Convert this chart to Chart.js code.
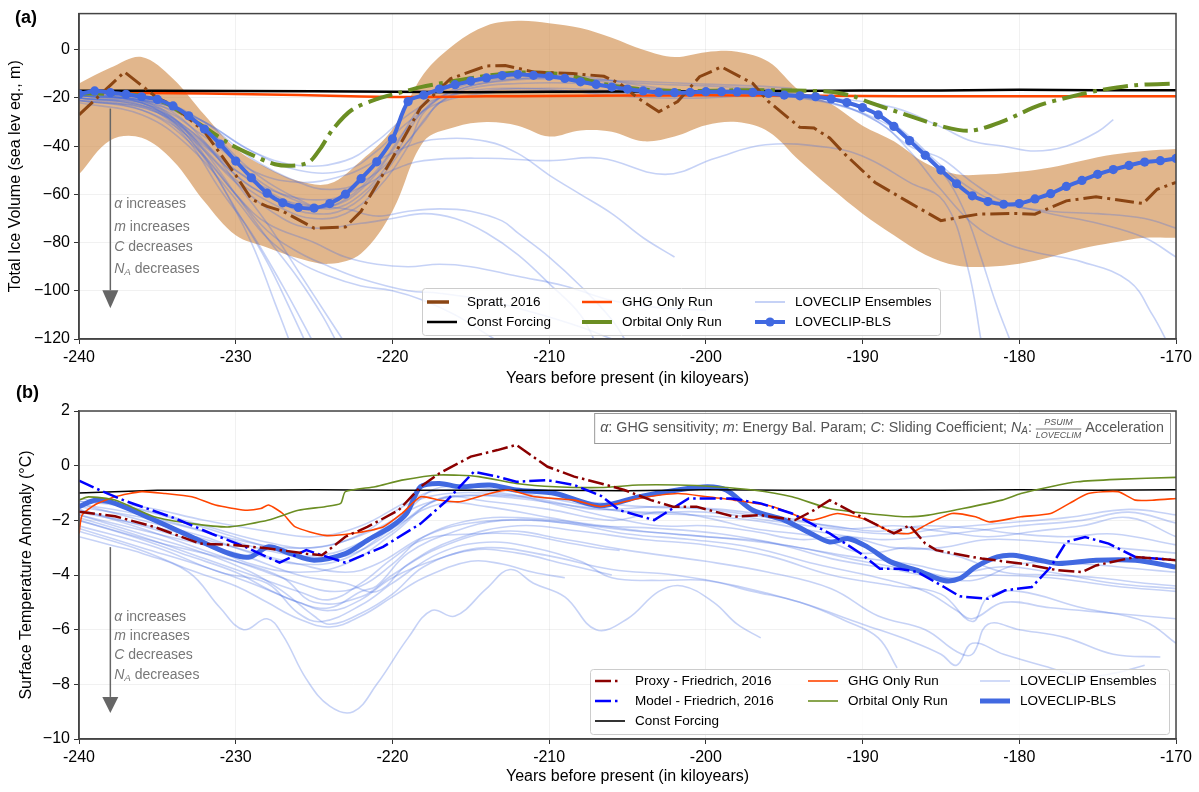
<!DOCTYPE html>
<html><head><meta charset="utf-8">
<script src="https://cdn.jsdelivr.net/npm/chart.js@4.4.1/dist/chart.umd.min.js"></script>
<style>
html,body{margin:0;padding:0;background:#fff;}
body{width:1199px;height:792px;overflow:hidden;position:relative;}
canvas{position:absolute;left:0;display:block;}
#ca{top:0;}
#cb{top:375px;}
</style></head><body>
<canvas id="ca" width="1199" height="390"></canvas>
<canvas id="cb" width="1199" height="417"></canvas>
<script>
// ---------------- DATA : panel (a) total ice volume ----------------
const X_TICKS = [-240,-230,-220,-210,-200,-190,-180,-170];
const BLS_A = [[-240,-18.4],[-239,-17.1],[-238,-17.8],[-237,-18.5],[-236,-19.5],[-235,-20.6],[-234,-23.3],[-233,-27.4],[-232,-32.9],[-231,-39.1],[-230,-46.2],[-229,-53.1],[-228,-59.5],[-227,-63.5],[-226,-65.4],[-225,-65.7],[-224,-63.8],[-223,-59.9],[-222,-53.5],[-221,-46.5],[-220,-37.0],[-219,-21.5],[-218,-18.8],[-217,-16.3],[-216,-14.5],[-215,-13.0],[-214,-11.7],[-213,-10.7],[-212,-10.2],[-211,-10.6],[-210,-11.0],[-209,-11.9],[-208,-13.3],[-207,-14.4],[-206,-15.5],[-205,-16.3],[-204,-17.1],[-203,-17.7],[-202,-17.8],[-201,-17.7],[-200,-17.4],[-199,-17.4],[-198,-17.5],[-197,-17.7],[-196,-18.1],[-195,-18.8],[-194,-19.1],[-193,-19.5],[-192,-20.4],[-191,-21.9],[-190,-24.0],[-189,-27.0],[-188,-31.8],[-187,-37.7],[-186,-43.8],[-185,-49.9],[-184,-55.6],[-183,-60.6],[-182,-63.0],[-181,-64.1],[-180,-63.8],[-179,-61.9],[-178,-59.7],[-177,-56.7],[-176,-54.2],[-175,-51.7],[-174,-49.7],[-173,-48.0],[-172,-46.6],[-171,-46.0],[-170,-45.1]];
const SPRATT_A = [[-240,-27],[-237.1,-9.2],[-235,-20],[-234,-23],[-232,-34],[-230,-52],[-229,-62],[-228,-65],[-227,-67],[-225,-74],[-223,-73.5],[-222,-67],[-220,-45],[-218.2,-24],[-216.3,-12],[-214,-6.7],[-212.8,-6.5],[-211,-9.2],[-208.5,-9.9],[-206.5,-11],[-205.5,-14],[-204.3,-20.2],[-203,-25.7],[-201.8,-21.5],[-200.4,-11.2],[-199,-7.1],[-197,-14],[-196,-21.5],[-194,-32.2],[-193.1,-32.5],[-192.1,-36.6],[-191.1,-43.5],[-189.2,-55.1],[-187.2,-62.7],[-185,-70.9],[-182.6,-68.2],[-180.2,-67.9],[-179,-68.2],[-177,-62.7],[-175.1,-61],[-172.1,-63.8],[-171.2,-57.9],[-170,-55]];
const BAND_X  = [-240,-238,-236,-234,-232,-230,-228,-226,-224,-222,-220,-218,-216,-214,-212,-210,-208,-206,-204,-202,-200,-198,-196,-194,-192,-190,-188,-186,-184,-182,-180,-178,-176,-174,-172,-170];
const BAND_UP = [-14,-7.5,-3,-12,-27,-41,-49,-54.5,-55.5,-46,-33,-10,2.5,10,12,11,9,5,0,-3,-1,-0.8,-5,-17,-22.5,-31.5,-38,-47,-51.7,-51.7,-50.6,-48.8,-46,-43.5,-42,-41.2];
const BAND_LO = [-51.7,-37.5,-36.5,-46,-63,-77,-82,-86.5,-88.8,-84.5,-67,-38,-32,-30,-31.5,-36,-33.5,-34,-38,-36,-31.3,-30,-34,-46.2,-57.5,-68,-77,-85,-89.5,-90,-88.8,-86,-82.5,-80,-78,-78];
const GHG_A = [[-240,-17.8],[-232,-18.2],[-226,-18.8],[-222,-19.4],[-218,-19.6],[-214,-19.3],[-210,-19.2],[-205,-19],[-200,-18.9],[-195,-19],[-190,-19.2],[-185,-19.3],[-180,-19.3],[-175,-19.3],[-170,-19.3]];
const CONST_A = [[-240,-17],[-235,-17],[-225,-17.2],[-220,-17.4],[-215,-17.6],[-210,-17.4],[-205,-17.3],[-200,-17.2],[-195,-17.1],[-190,-16.9],[-185,-16.9],[-180,-16.6],[-175,-16.8],[-170,-16.8]];
const ORBITAL_A = [[-240,-18],[-236,-19],[-234.5,-22],[-233.5,-26],[-231.8,-33],[-230.4,-39],[-229,-43.5],[-227.5,-47.5],[-226.2,-48],[-225.3,-46.5],[-224.6,-41],[-223.8,-33],[-222.6,-25],[-221,-20.5],[-219.4,-17.6],[-218.2,-15.5],[-217,-14],[-214.5,-11.3],[-212,-9.5],[-209,-10.3],[-206.7,-14],[-204.3,-16.3],[-201.8,-17.1],[-197,-16.8],[-192.1,-17.4],[-190.5,-19.5],[-189.7,-21.5],[-187.2,-27],[-184.8,-32],[-183.1,-33.6],[-181.1,-29.8],[-178.7,-23],[-176.3,-18.8],[-175.1,-17.1],[-172.6,-14.7],[-170,-14]];
const ENS_A = [
 [[-240,-19],[-237,-20],[-235,-24],[-233,-35],[-231,-55],[-229,-80],[-227.5,-105],[-226.5,-122]],
 [[-240,-20],[-237,-22],[-235,-26],[-233,-38],[-231,-58],[-229,-76],[-227,-98],[-225,-122]],
 [[-240,-18],[-236,-21],[-234,-28],[-232,-42],[-230,-60],[-228,-78],[-226,-95],[-224.5,-110],[-223.5,-122]],
 [[-240,-19],[-236,-21],[-234,-26],[-232,-38],[-230,-55],[-228,-72],[-226,-92],[-224,-112],[-223,-122]],
 [[-240,-20],[-236,-23],[-234,-30],[-232,-45],[-230,-66],[-228,-88],[-226.5,-108],[-225.5,-122]],
 [[-240,-21],[-236,-25],[-233,-38],[-230,-60],[-228,-75],[-226,-84],[-224,-90],[-222,-95],[-219,-100],[-217,-101],[-214,-104],[-211,-109],[-208,-115],[-206,-120]],
 [[-240,-21],[-235,-26],[-232,-44],[-230,-60],[-228,-72],[-225,-80],[-223,-86],[-221,-89],[-219,-90],[-217,-89],[-215,-90],[-212,-94],[-209,-98],[-206,-104],[-203,-107],[-200,-108]],
 [[-240,-20],[-235,-26],[-232,-40],[-229,-57],[-226,-64],[-223,-66],[-221,-69],[-219,-67],[-217,-66],[-215,-67],[-213,-71],[-212,-76],[-210,-86],[-208,-98],[-206,-112],[-205,-122]],
 [[-240,-19],[-235,-24],[-232,-36],[-229,-50],[-226,-55],[-223,-52],[-221,-46],[-219,-40],[-217,-37],[-214,-38],[-212,-43],[-210,-52],[-208,-60],[-206,-68],[-204,-78],[-202,-86]],
 [[-240,-18],[-236,-22],[-233,-33],[-230,-50],[-227,-62],[-225,-66],[-223,-62],[-221,-50],[-219,-32],[-217,-20],[-215,-14],[-212,-12],[-208,-12],[-204,-14],[-200,-15],[-197,-16],[-194.5,-17]],
 [[-240,-19],[-236,-22],[-233,-35],[-230,-54],[-227,-66],[-225,-70],[-223,-68],[-221,-58],[-219,-40],[-218,-26],[-216,-17],[-213,-13],[-209,-12],[-205,-13],[-201,-14],[-197,-15],[-194.5,-16]],
 [[-240,-18],[-235,-21],[-232,-30],[-229,-45],[-226,-55],[-224,-58],[-222,-55],[-220,-45],[-218,-30],[-217,-22],[-215,-17],[-212,-16],[-209,-17],[-206,-19],[-203,-20],[-200,-20],[-197,-19],[-194,-20],[-191,-24],[-189,-29],[-187,-37],[-185,-50],[-183.5,-67],[-182.5,-85],[-181.5,-105],[-180.5,-122]],
 [[-240,-18],[-235,-22],[-232,-32],[-229,-50],[-226,-62],[-224,-66],[-222,-60],[-220,-45],[-218,-25],[-216,-17],[-212,-12],[-208,-12],[-204,-16],[-200,-18],[-196,-18],[-192,-21],[-189,-27],[-187,-36],[-185,-48],[-183,-58],[-181,-64],[-178,-67],[-175,-68],[-172,-70],[-170,-74]],
 [[-240,-20],[-236,-23],[-233,-33],[-230,-52],[-227,-64],[-225,-68],[-223,-66],[-221,-55],[-219,-38],[-217,-22],[-215,-16],[-212,-14],[-208,-14],[-204,-17],[-200,-19],[-196,-19],[-192,-22],[-189,-30],[-187,-42],[-185,-58],[-183,-72],[-181,-80],[-179,-84],[-176,-88],[-173,-96],[-171.5,-110],[-170.5,-122]],
 [[-240,-19],[-236,-22],[-233,-34],[-230,-50],[-227,-60],[-224,-62],[-222,-57],[-220,-50],[-218,-46],[-214,-45],[-210,-46],[-206.7,-45],[-202.6,-51.7],[-199.4,-45],[-196.2,-39.4],[-192,-40.7],[-189.7,-45],[-187,-55],[-184.8,-63],[-183.3,-90],[-182.4,-122]],
 [[-240,-19],[-235,-22],[-232,-30],[-229,-42],[-226,-48],[-223,-46],[-221,-38],[-219,-27],[-217,-20],[-214,-17],[-210,-16],[-206,-17],[-202,-18],[-198,-18],[-195,-19],[-192,-20],[-188,-24],[-185,-32],[-183,-38],[-181,-40],[-179,-42],[-177,-40],[-175,-34],[-174,-29]],
 [[-240,-19],[-235,-22],[-232,-30],[-229,-42],[-226,-50],[-223,-50],[-221,-42],[-219,-30],[-217,-22],[-214,-18],[-210,-17],[-206,-18],[-202,-18],[-198,-17],[-195,-18]],
 [[-240,-22],[-236,-27],[-233,-40],[-230,-62],[-228,-78],[-226,-88],[-224,-94],[-222,-98],[-220,-100],[-218,-104],[-216,-110],[-214,-118],[-213,-122]],
 [[-240,-21],[-236,-25],[-233,-36],[-230,-55],[-227,-70],[-225,-74],[-222,-72],[-220,-70],[-218,-68],[-216,-70],[-214,-76],[-212,-85],[-210,-97],[-208,-110],[-207,-122]],
 [[-240,-20],[-235,-23],[-232,-33],[-229,-52],[-226,-63],[-224,-65],[-222,-58],[-220,-42],[-218,-22],[-216,-15],[-212,-11],[-208,-11],[-204,-15],[-200,-18],[-196,-18],[-192,-22],[-189,-30],[-187,-40],[-185,-45],[-183,-55],[-181,-63],[-178,-68],[-175,-72],[-172,-78],[-170,-86]]
];

// ---------------- DATA : panel (b) surface temperature ----------------
const PROXY_B = [[-240,-1.69],[-237.7,-1.85],[-235.2,-2.24],[-232.3,-2.85],[-230,-2.91],[-227.9,-3.03],[-225.5,-3.22],[-224.5,-3.28],[-223,-2.6],[-221.6,-2.24],[-219.6,-1.63],[-218.2,-0.77],[-217,-0.28],[-215,0.33],[-213.3,0.57],[-212.1,0.76],[-210.1,-0.04],[-208.4,-0.4],[-206.7,-0.65],[-205.2,-0.89],[-203.5,-1.26],[-202.1,-1.5],[-200.6,-1.5],[-198.2,-1.87],[-196.5,-1.81],[-194.3,-1.99],[-193.1,-1.63],[-192.1,-1.26],[-190.9,-1.63],[-189.7,-1.99],[-188,-2.48],[-187,-2.18],[-186,-2.85],[-185.3,-3.09],[-183.6,-3.28],[-182.4,-3.4],[-179.9,-3.58],[-177.5,-3.83],[-176,-3.89],[-175.1,-3.65],[-172.6,-3.34],[-170,-3.46]];
const MODEL_B = [[-240,-0.55],[-238.7,-0.89],[-237,-1.3],[-234,-1.9],[-231.5,-2.5],[-229.4,-2.97],[-227.2,-3.55],[-225.5,-3.09],[-223,-3.55],[-220.6,-2.97],[-218.2,-2.12],[-216.5,-1.26],[-214.8,-0.22],[-213.3,-0.4],[-212.1,-0.59],[-210.1,-0.53],[-208.4,-0.71],[-206.7,-1.1],[-205.5,-1.63],[-203.3,-1.99],[-201.1,-1.2],[-198.4,-1.2],[-196.5,-1.38],[-194.5,-1.75],[-192.1,-2.48],[-190.1,-3.22],[-188.9,-3.77],[-187.7,-3.77],[-186.5,-3.89],[-184.8,-4.44],[-183.8,-4.78],[-182,-4.87],[-180.9,-4.56],[-179.2,-4.44],[-178,-3.71],[-177,-2.79],[-175.8,-2.61],[-174.3,-2.85],[-172.6,-3.34],[-170,-3.46]];
const GHG_B = [[-240,-2.48],[-239.8,-1.81],[-239,-1.44],[-237.7,-1.14],[-236,-0.95],[-234.5,-1.02],[-232.8,-1.14],[-231.3,-1.44],[-229.4,-1.63],[-228.4,-1.57],[-227.9,-1.44],[-227,-1.75],[-226.2,-2.24],[-224.3,-2.55],[-222.6,-2.48],[-220.6,-2.24],[-219.4,-1.75],[-218.2,-1.14],[-217,-1.26],[-215.7,-1.32],[-213.8,-1.02],[-212.6,-0.89],[-210.9,-1.14],[-208.4,-1.26],[-206.7,-1.5],[-204.3,-1.2],[-201.8,-1.02],[-199.9,-1.14],[-198.2,-1.26],[-195.7,-1.5],[-193.3,-1.99],[-191.6,-1.75],[-189.7,-1.99],[-188.2,-2.42],[-187,-2.48],[-185.8,-2.12],[-184.3,-1.75],[-182.8,-1.87],[-181.9,-2.06],[-179.9,-1.87],[-178,-1.75],[-176.8,-1.38],[-175.6,-1.02],[-173.7,-0.95],[-172.6,-1.26],[-171.4,-1.26],[-170,-1.2]];
const ORBITAL_B = [[-240,-1.26],[-239.4,-1.14],[-237.7,-1.26],[-235.2,-1.87],[-232.8,-2.12],[-230.4,-2.24],[-227.9,-1.99],[-226,-1.63],[-224.3,-1.5],[-223.3,-1.38],[-223,-0.95],[-221.1,-0.77],[-219.4,-0.53],[-217,-0.34],[-214.5,-0.4],[-212.1,-0.65],[-209.6,-0.77],[-206.7,-0.8],[-204.3,-0.71],[-201.8,-0.71],[-199.4,-0.77],[-197,-0.89],[-194.5,-1.14],[-192.1,-1.57],[-189.7,-1.75],[-187.2,-1.87],[-185.8,-1.81],[-183.6,-1.57],[-181.1,-1.26],[-179.9,-1.02],[-178,-0.77],[-176.3,-0.59],[-173.8,-0.5],[-170,-0.43]];
const CONST_B = [[-240,-1.0],[-235,-0.9],[-230,-0.9],[-225,-0.88],[-220,-0.9],[-215,-0.9],[-210,-0.9],[-205,-0.92],[-200,-0.88],[-195,-0.9],[-190,-0.9],[-185,-0.9],[-180,-0.88],[-175,-0.9],[-170,-0.88]];
const BLS_B = [[-240,-1.5],[-238.9,-1.26],[-237.7,-1.38],[-235.2,-1.99],[-232.8,-2.61],[-230.4,-3.22],[-229.1,-3.34],[-227.9,-2.97],[-226.5,-3.22],[-225,-3.46],[-223,-3.22],[-221.6,-2.73],[-220.1,-2.24],[-219.1,-1.75],[-218.2,-0.77],[-217,-0.65],[-215.7,-0.77],[-213.8,-0.71],[-212.1,-0.89],[-209.6,-1.02],[-206.8,-1.47],[-204.3,-1.14],[-201.8,-0.89],[-199.9,-0.77],[-198.7,-0.89],[-197,-1.63],[-195,-1.99],[-193.3,-2.48],[-192.1,-2.79],[-190.9,-2.67],[-189.7,-2.97],[-188.2,-3.52],[-186.5,-3.83],[-184.8,-4.2],[-183.8,-4.13],[-182.8,-3.71],[-181.4,-3.34],[-180.4,-3.28],[-178.7,-3.46],[-177.5,-3.58],[-175.1,-3.46],[-172.6,-3.46],[-170,-3.71]];
const ENS_B = [
 [[-240,-2.6],[-238,-2.9],[-236,-3.2],[-233,-3.9],[-231,-5.2],[-229.5,-6.0],[-228,-5.6],[-227,-6.2],[-225.5,-7.8],[-224,-8.8],[-222.5,-9.0],[-221,-8.0],[-219,-6.3],[-217.5,-5.3],[-216,-5.5],[-214,-4.5],[-212.5,-3.8],[-211,-4.3],[-209,-4.8],[-207,-6.0],[-205,-5.6],[-203,-4.6],[-201.5,-4.4],[-199.5,-5.0],[-198,-5.8],[-196.5,-6.3]],
 [[-240,-2.2],[-235,-3.0],[-231,-3.9],[-228,-4.3],[-226,-5.4],[-224.5,-5.7],[-222,-5.1],[-220,-4.3],[-217,-3.2],[-214,-2.8],[-211,-3.0],[-208,-3.5],[-206,-4.1],[-203,-4.2],[-200,-4.2],[-197,-4.6],[-194,-5.0],[-191,-5.7],[-189,-6.3],[-187.8,-7.4]],
 [[-240,-2.0],[-235,-2.8],[-230,-3.5],[-227,-4.1],[-225,-5.0],[-222,-4.8],[-220,-4.0],[-217,-3.0],[-213,-2.4],[-209,-2.7],[-205,-3.1],[-200,-3.5],[-196,-3.9],[-192,-4.5],[-189,-5.5],[-186,-6.0],[-184,-6.8],[-183,-6.9],[-182,-5.8],[-180,-6.0],[-177,-6.3],[-174,-6.9],[-171,-7.0]],
 [[-240,-1.8],[-235,-2.5],[-230,-3.2],[-226,-4.0],[-223,-4.3],[-221,-4.6],[-219,-3.6],[-216,-2.7],[-212,-2.2],[-208,-2.4],[-204,-2.7],[-200,-2.9],[-196,-3.3],[-192,-4.0],[-188,-4.4],[-185,-4.7],[-183,-5.7],[-182,-4.8],[-180,-4.6],[-176,-5.2],[-172,-5.7],[-170,-6.5]],
 [[-240,-1.7],[-234,-2.4],[-230,-3.0],[-226,-3.6],[-223,-3.9],[-221,-3.6],[-218,-2.6],[-215,-2.1],[-211,-2.0],[-207,-2.2],[-203,-2.3],[-199,-2.5],[-195,-2.9],[-191,-3.3],[-187,-3.6],[-184,-3.9],[-181,-3.7],[-178,-3.9],[-174,-4.3],[-170,-4.5]],
 [[-240,-1.4],[-236,-1.8],[-232,-2.4],[-228,-3.1],[-225,-3.3],[-222,-2.8],[-219,-1.6],[-217,-0.8],[-213,-0.9],[-209,-1.3],[-205,-1.7],[-201,-1.8],[-197,-2.0],[-193,-2.4],[-189,-2.7],[-186,-2.6],[-183,-2.4],[-180,-2.2],[-176,-2.0],[-173,-1.7],[-170,-2.1]],
 [[-240,-1.6],[-236,-2.2],[-232,-2.9],[-229,-3.6],[-226,-3.9],[-223,-3.6],[-220,-2.5],[-217,-1.2],[-214,-1.3],[-210,-1.6],[-206,-2.0],[-203,-1.7],[-200,-1.9],[-197,-2.3],[-193,-2.6],[-190,-3.2],[-187,-3.0],[-184,-3.3],[-181,-3.9],[-178,-4.0],[-175,-4.1],[-172,-4.3],[-170,-4.4]],
 [[-240,-1.3],[-236,-1.5],[-232,-2.0],[-228,-2.4],[-225,-2.6],[-222,-2.2],[-219,-1.3],[-217,-0.9],[-213,-1.0],[-209,-1.5],[-206,-1.9],[-203,-2.2],[-200,-2.2],[-197,-2.4],[-194,-2.7],[-191,-2.6],[-188,-3.0],[-185,-3.0],[-182,-2.7],[-178,-2.8],[-174,-3.0],[-170,-3.2]],
 [[-240,-1.9],[-236,-2.6],[-232,-3.4],[-229,-4.0],[-226,-4.6],[-224,-4.9],[-222,-4.3],[-220,-3.4],[-218,-2.7],[-215,-2.5],[-212,-2.5],[-209,-2.8],[-207,-3.0],[-205.5,-3.1]],
 [[-240,-1.5],[-235,-2.0],[-230,-2.7],[-227,-3.0],[-224,-2.9],[-221,-2.3],[-218,-1.4],[-215,-1.1],[-211,-1.2],[-207,-1.6],[-203,-1.5],[-199,-1.6],[-195,-1.9],[-191,-2.3],[-188,-2.2],[-185,-2.4],[-182,-2.6],[-179,-2.4],[-176,-2.2],[-173,-1.9],[-170,-2.6]],
 [[-240,-2.3],[-236,-3.0],[-232,-3.7],[-229,-4.3],[-226,-5.0],[-224,-5.3],[-222,-4.9],[-220,-4.1],[-217,-3.4],[-214,-3.0],[-210,-3.3],[-206,-3.8],[-202,-4.0],[-198,-4.4],[-194,-5.0],[-190,-5.8],[-187,-6.4],[-185,-6.9],[-184,-7.3],[-183,-6.5],[-181,-6.9],[-178,-7.4],[-176,-7.7],[-174,-7.6],[-172,-7.3]],
 [[-240,-1.2],[-236,-1.6],[-232,-2.2],[-228,-2.8],[-225,-3.0],[-222,-2.5],[-219,-1.4],[-216,-1.0],[-212,-1.1],[-208,-1.3],[-204,-1.5],[-200,-1.6],[-196,-1.9],[-192,-2.2],[-189,-2.4],[-186,-2.2],[-183,-2.3],[-180,-2.5],[-177,-2.6],[-174,-2.5],[-170,-2.9]],
 [[-240,-1.6],[-236,-2.3],[-232,-3.1],[-229,-3.7],[-226,-4.3],[-224,-4.6],[-222,-4.4],[-220,-3.6],[-218,-2.6],[-215,-2.0],[-212,-1.9],[-208,-2.1],[-204,-2.4],[-200,-2.6],[-196,-2.8],[-192,-3.4],[-188,-3.8],[-185,-4.1],[-182,-4.0],[-178,-4.1],[-174,-4.4],[-170,-4.6]],
 [[-240,-1.8],[-236,-2.5],[-232,-3.2],[-229,-3.9],[-227,-4.6],[-225,-5.5],[-224,-5.8],[-222,-5.4],[-220,-4.7],[-218,-3.7],[-215,-3.1],[-212,-3.2],[-209,-3.6],[-206,-4.0]],
 [[-240,-1.4],[-236,-2.0],[-232,-2.6],[-229,-3.2],[-226,-3.6],[-223,-3.4],[-220,-2.3],[-217,-1.4],[-214,-1.5],[-210,-1.9],[-206,-2.3],[-202,-2.5],[-198,-2.7],[-194,-3.0],[-190,-3.5],[-186,-3.9],[-183,-4.2],[-180,-3.6],[-176,-3.6],[-172,-3.8],[-170,-3.9]],
 [[-240,-2.0],[-236,-2.7],[-233,-3.3],[-230,-3.9],[-228,-4.5],[-226,-5.0],[-224,-5.2],[-222,-4.6],[-221,-4.4],[-219,-3.2],[-216,-2.4],[-213,-2.0],[-209,-2.1],[-205,-2.5],[-201,-2.7],[-197,-3.0],[-193,-3.6],[-189,-4.1],[-186,-4.6],[-184,-5.3],[-183,-5.6],[-181,-5.0],[-178,-5.2],[-174,-5.4],[-170,-5.6]],
 [[-240,-1.3],[-237,-1.5],[-233,-2.1],[-229,-2.8],[-226,-3.3],[-223,-3.3],[-220,-2.4],[-218,-1.5],[-216,-1.1],[-212,-1.2],[-208,-1.5],[-204,-1.7],[-200,-1.7],[-196,-2.0],[-192,-2.3],[-188,-2.5],[-185,-2.3],[-181,-2.1],[-177,-1.9],[-173,-1.6],[-170,-1.8]],
 [[-240,-2.4],[-236,-3.1],[-233,-3.8],[-230,-4.4],[-228,-5.0],[-226,-5.6],[-224,-5.9],[-222,-5.5],[-220,-4.8],[-218,-4.1],[-215,-3.5],[-213,-3.6],[-211,-3.9],[-209,-4.1]]
];

// ---------------- helpers ----------------
const FONT = '"Liberation Sans", Arial, Helvetica, sans-serif';
const BLUE = '#4169E1', ENS = 'rgba(65,105,225,0.3)';
const pts = a => a.map(p => ({x: p[0], y: p[1]}));
const zip = (xs, ys) => xs.map((x, i) => ({x: x, y: ys[i]}));

function runs(ctx, x, y, parts, size, color) {
  let cx = x;
  for (const p of parts) {
    if (p.frac) {
      ctx.font = 'italic ' + Math.round(size * 0.62) + 'px ' + FONT;
      const w = Math.max(ctx.measureText(p.frac[0]).width, ctx.measureText(p.frac[1]).width);
      ctx.fillStyle = color; ctx.textAlign = 'center';
      ctx.fillText(p.frac[0], cx + w / 2, y - 6);
      ctx.fillText(p.frac[1], cx + w / 2, y + 7);
      ctx.strokeStyle = color; ctx.lineWidth = 0.8;
      ctx.beginPath(); ctx.moveTo(cx, y + 0.5); ctx.lineTo(cx + w, y + 0.5); ctx.stroke();
      ctx.textAlign = 'left';
      cx += w;
      continue;
    }
    const s = p.s ? size * p.s : size;
    ctx.font = (p.i ? 'italic ' : '') + s + 'px ' + FONT;
    ctx.fillStyle = color;
    ctx.fillText(p.t, cx, y + (p.dy || 0));
    cx += ctx.measureText(p.t).width;
  }
  return cx;
}
function measureRuns(ctx, parts, size) {
  let w = 0;
  for (const p of parts) {
    if (p.frac) { ctx.font = 'italic ' + Math.round(size * 0.62) + 'px ' + FONT; w += Math.max(ctx.measureText(p.frac[0]).width, ctx.measureText(p.frac[1]).width); continue; }
    const s = p.s ? size * p.s : size;
    ctx.font = (p.i ? 'italic ' : '') + s + 'px ' + FONT;
    w += ctx.measureText(p.t).width;
  }
  return w;
}
function drawFrame(chart) {
  const {ctx, chartArea: a} = chart;
  ctx.save(); ctx.strokeStyle = '#444'; ctx.lineWidth = 1.5;
  ctx.strokeRect(a.left, a.top, a.right - a.left, a.bottom - a.top); ctx.restore();
}
function drawArrow(chart, xv, y0, yh, y1) {
  const ctx = chart.ctx, xs = chart.scales.x, ys = chart.scales.y;
  const x = xs.getPixelForValue(xv), p0 = ys.getPixelForValue(y0), ph = ys.getPixelForValue(yh), p1 = ys.getPixelForValue(y1);
  ctx.save(); ctx.strokeStyle = '#666'; ctx.fillStyle = '#666'; ctx.lineWidth = 1.5;
  ctx.beginPath(); ctx.moveTo(x, p0); ctx.lineTo(x, ph); ctx.stroke();
  ctx.beginPath(); ctx.moveTo(x - 8, ph); ctx.lineTo(x + 8, ph); ctx.lineTo(x, p1); ctx.closePath(); ctx.fill();
  ctx.restore();
}
const ARROW_LINES = [
  [{t: 'α', i: 1}, {t: ' increases'}],
  [{t: 'm', i: 1}, {t: ' increases'}],
  [{t: 'C', i: 1}, {t: ' decreases'}],
  [{t: 'N', i: 1}, {t: 'A', i: 1, s: 0.7, dy: 3}, {t: ' decreases'}]
];
function drawArrowText(chart, xv, yvals) {
  const ctx = chart.ctx, xs = chart.scales.x, ys = chart.scales.y;
  ctx.save(); ctx.textBaseline = 'middle'; ctx.textAlign = 'left';
  ARROW_LINES.forEach((parts, k) => runs(ctx, xs.getPixelForValue(xv), ys.getPixelForValue(yvals[k]), parts, 14, '#777'));
  ctx.restore();
}
function drawLegend(ctx, box, cols, rowY) {
  ctx.save();
  ctx.fillStyle = 'rgba(255,255,255,0.8)'; ctx.strokeStyle = '#cccccc'; ctx.lineWidth = 1;
  ctx.beginPath(); ctx.roundRect(box.x + 0.5, box.y + 0.5, box.w, box.h, 3); ctx.fill(); ctx.stroke();
  cols.forEach(col => col.items.forEach((it, r) => {
    const y = rowY[r], x0 = col.x;
    ctx.strokeStyle = it.c; ctx.lineWidth = it.w; ctx.setLineDash(it.dash || []); ctx.lineCap = 'butt';
    ctx.beginPath(); ctx.moveTo(x0, y); ctx.lineTo(x0 + 30, y); ctx.stroke();
    ctx.setLineDash([]);
    if (it.m) { ctx.fillStyle = it.c; ctx.beginPath(); ctx.arc(x0 + 15, y, it.m, 0, Math.PI * 2); ctx.fill(); }
    ctx.fillStyle = '#000'; ctx.font = '13.5px ' + FONT; ctx.textBaseline = 'middle'; ctx.textAlign = 'left';
    ctx.fillText(it.label, x0 + 40, y);
  }));
  ctx.restore();
}
function axisCommon(title, titlePad, ticksCb, step, min, max, fit) {
  return {
    min: min, max: max,
    ticks: {stepSize: step, includeBounds: false, callback: ticksCb, color: '#000', font: {size: 16, family: FONT}, padding: 4, maxRotation: 0, autoSkip: false},
    grid: {color: 'rgba(0,0,0,0.055)', lineWidth: 1, tickColor: '#333', tickLength: 5, tickWidth: 1},
    border: {color: '#444', width: 1.5},
    title: {display: true, text: title, color: '#000', font: {size: 16, family: FONT}, padding: titlePad},
    afterFit: fit
  };
}
const xTick = v => String(v);
const yTick = v => String(v).replace('-', '\u2212');

// ---------------- chart (a) ----------------
const dsA = [];
dsA.push({label: 'LOVECLIP-BLS', data: pts(BLS_A), borderColor: BLUE, backgroundColor: BLUE, borderWidth: 4, pointRadius: 4.6, pointBackgroundColor: BLUE, pointBorderWidth: 0, tension: 0.3});
dsA.push({label: 'Spratt, 2016', data: pts(SPRATT_A), borderColor: '#8B4513', borderWidth: 3, borderDash: [19, 5, 3, 5], tension: 0});
dsA.push({label: 'Orbital Only Run', data: pts(ORBITAL_A), borderColor: '#6B8E23', borderWidth: 4, borderDash: [25, 6.4, 4, 6.4], tension: 0.3});
dsA.push({label: 'Const Forcing', data: pts(CONST_A), borderColor: '#000', borderWidth: 2.5, tension: 0});
dsA.push({label: 'GHG Only Run', data: pts(GHG_A), borderColor: '#FF4500', borderWidth: 2.5, tension: 0.3});
ENS_A.forEach((e, k) => dsA.push({label: k === 0 ? 'LOVECLIP Ensembles' : '', data: pts(e), borderColor: ENS, borderWidth: 1.6, tension: 0.4}));
dsA.push({label: 'band upper', data: zip(BAND_X, BAND_UP), borderWidth: 0, borderColor: 'rgba(0,0,0,0)', backgroundColor: 'rgba(205,133,63,0.6)', fill: '+1', tension: 0.35});
dsA.push({label: 'band lower', data: zip(BAND_X, BAND_LO), borderWidth: 0, borderColor: 'rgba(0,0,0,0)', fill: false, tension: 0.35});

const decorA = {
  id: 'decorA',
  afterDatasetsDraw(chart) {
    drawFrame(chart);
    drawArrow(chart, -238, -24.4, -99.8, -107.2);
    drawArrowText(chart, -237.75, [-63.9, -73.4, -82, -91]);
    drawLegend(chart.ctx, {x: 422, y: 288, w: 518, h: 47}, [
      {x: 427, items: [{label: 'Spratt, 2016', c: '#8B4513', w: 3.5, dash: [22, 40]}, {label: 'Const Forcing', c: '#000', w: 2.5}]},
      {x: 582, items: [{label: 'GHG Only Run', c: '#FF4500', w: 2.5}, {label: 'Orbital Only Run', c: '#6B8E23', w: 4, dash: [30, 40]}]},
      {x: 755, items: [{label: 'LOVECLIP Ensembles', c: ENS, w: 2}, {label: 'LOVECLIP-BLS', c: BLUE, w: 4, m: 4.6}]}
    ], [302, 322]);
  },
  afterDraw(chart) {
    const ctx = chart.ctx; ctx.save(); ctx.font = 'bold 18px ' + FONT; ctx.fillStyle = '#000'; ctx.textBaseline = 'middle';
    ctx.fillText('(a)', 15, 18); ctx.restore();
  }
};

new Chart(document.getElementById('ca'), {
  type: 'line',
  data: {datasets: dsA},
  options: {
    responsive: false, animation: false,
    layout: {padding: {top: 11, right: 23, left: 0, bottom: 0}},
    plugins: {legend: {display: false}, tooltip: {enabled: false}},
    elements: {point: {radius: 0}},
    scales: {
      x: Object.assign({type: 'linear'}, axisCommon('Years before present (in kiloyears)', {top: 0, bottom: 2}, xTick, 10, -240, -170, s => { s.height = 51; })),
      y: Object.assign({type: 'linear'}, axisCommon('Total Ice Volume (sea lev eq., m)', {top: 6, bottom: 0}, yTick, 20, -120, 15, s => { s.width = 79; }))
    }
  },
  plugins: [decorA]
});

// ---------------- chart (b) ----------------
const dsB = [];
dsB.push({label: 'Proxy - Friedrich, 2016', data: pts(PROXY_B), borderColor: '#8B0000', borderWidth: 2.5, borderDash: [16, 4, 2.5, 4], tension: 0});
dsB.push({label: 'Model - Friedrich, 2016', data: pts(MODEL_B), borderColor: '#0000FF', borderWidth: 2.5, borderDash: [16, 4, 2.5, 4], tension: 0});
dsB.push({label: 'Orbital Only Run', data: pts(ORBITAL_B), borderColor: '#6B8E23', borderWidth: 1.6, tension: 0.2});
dsB.push({label: 'GHG Only Run', data: pts(GHG_B), borderColor: '#FF4500', borderWidth: 1.6, tension: 0.2});
dsB.push({label: 'Const Forcing', data: pts(CONST_B), borderColor: '#000', borderWidth: 1.6, tension: 0});
dsB.push({label: 'LOVECLIP-BLS', data: pts(BLS_B), borderColor: BLUE, borderWidth: 5, tension: 0.3});
ENS_B.forEach((e, k) => dsB.push({label: k === 0 ? 'LOVECLIP Ensembles' : '', data: pts(e), borderColor: ENS, borderWidth: 1.6, tension: 0.4}));

const NOTE = [{t: 'α', i: 1}, {t: ': GHG sensitivity; '}, {t: 'm', i: 1}, {t: ': Energy Bal. Param; '}, {t: 'C', i: 1}, {t: ': Sliding Coefficient; '}, {t: 'N', i: 1}, {t: 'A', i: 1, s: 0.7, dy: 3}, {t: ': '}, {frac: ['PSUIM', 'LOVECLIM']}, {t: ' Acceleration'}];

const decorB = {
  id: 'decorB',
  afterDatasetsDraw(chart) {
    const ctx = chart.ctx, a = chart.chartArea;
    drawFrame(chart);
    drawArrow(chart, -238, -2.98, -8.46, -9.05);
    drawArrowText(chart, -237.75, [-5.54, -6.23, -6.93, -7.66]);
    // note box
    const size = 14.3;
    const w = measureRuns(ctx, NOTE, size);
    const bx = a.right - 6 - (w + 12), by = a.top + 2;
    ctx.save();
    ctx.fillStyle = 'rgba(255,255,255,0.9)'; ctx.strokeStyle = '#999'; ctx.lineWidth = 1;
    ctx.fillRect(bx, by, w + 12, 30); ctx.strokeRect(bx + 0.5, by + 0.5, w + 12, 30);
    ctx.textBaseline = 'middle'; ctx.textAlign = 'left';
    runs(ctx, bx + 6, by + 15.5, NOTE, size, '#555');
    ctx.restore();
    drawLegend(ctx, {x: 590, y: 294, w: 579, h: 65}, [
      {x: 595, items: [{label: 'Proxy - Friedrich, 2016', c: '#8B0000', w: 2.5, dash: [16, 4, 2.5, 12]}, {label: 'Model - Friedrich, 2016', c: '#0000FF', w: 2.5, dash: [16, 4, 2.5, 12]}, {label: 'Const Forcing', c: '#000', w: 1.6}]},
      {x: 808, items: [{label: 'GHG Only Run', c: '#FF4500', w: 1.6}, {label: 'Orbital Only Run', c: '#6B8E23', w: 1.6}]},
      {x: 980, items: [{label: 'LOVECLIP Ensembles', c: ENS, w: 1.6}, {label: 'LOVECLIP-BLS', c: BLUE, w: 5}]}
    ], [306, 326, 346]);
  },
  afterDraw(chart) {
    const ctx = chart.ctx; ctx.save(); ctx.font = 'bold 18px ' + FONT; ctx.fillStyle = '#000'; ctx.textBaseline = 'middle';
    ctx.fillText('(b)', 16, 18); ctx.restore();
  }
};

new Chart(document.getElementById('cb'), {
  type: 'line',
  data: {datasets: dsB},
  options: {
    responsive: false, animation: false,
    layout: {padding: {top: 36, right: 23, left: 0, bottom: 0}},
    plugins: {legend: {display: false}, tooltip: {enabled: false}},
    elements: {point: {radius: 0}},
    scales: {
      x: Object.assign({type: 'linear'}, axisCommon('Years before present (in kiloyears)', {top: 0, bottom: 6}, xTick, 10, -240, -170, s => { s.height = 53; })),
      y: Object.assign({type: 'linear'}, axisCommon('Surface Temperature Anomaly (°C)', {top: 17, bottom: 0}, yTick, 2, -10, 2, s => { s.width = 79; }))
    }
  },
  plugins: [decorB]
});
</script>
</body></html>
